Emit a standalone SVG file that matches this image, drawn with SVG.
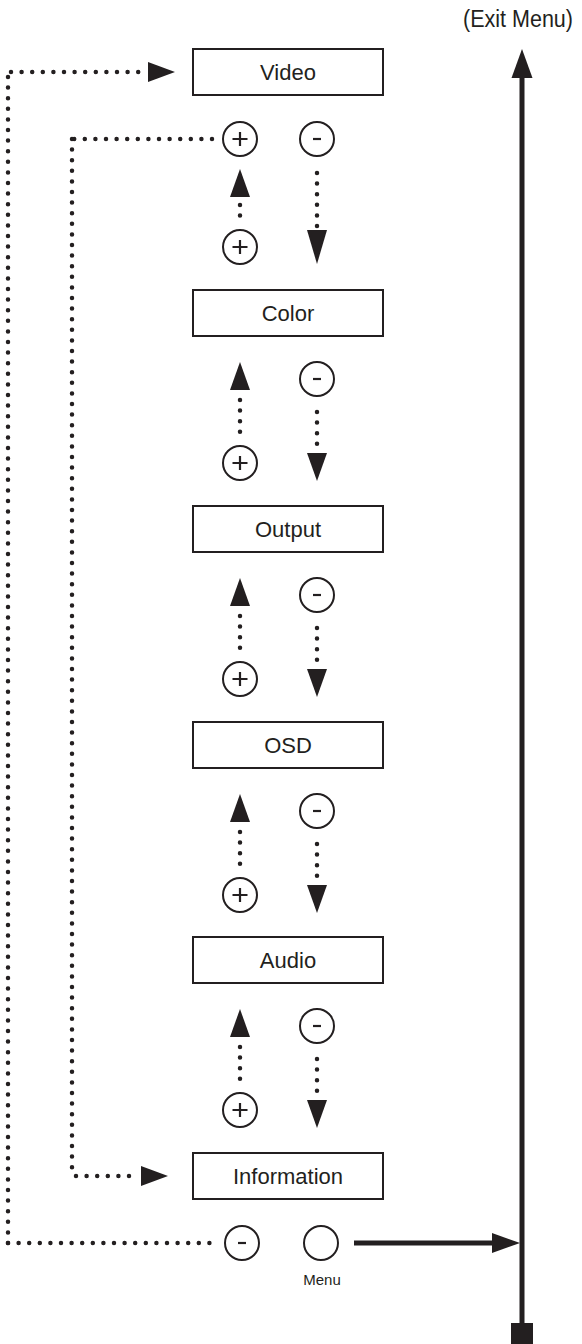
<svg xmlns="http://www.w3.org/2000/svg" width="582" height="1344" viewBox="0 0 582 1344">
<style>
.box{fill:#fff;stroke:#231f20;stroke-width:2}
.lbl{font-family:"Liberation Sans",Arial,sans-serif;font-size:22px;fill:#231f20;text-anchor:middle}
.btn{fill:#fff;stroke:#231f20;stroke-width:2}
.sign{stroke:#231f20;stroke-width:2.2;fill:none}
.dot{fill:none;stroke:#231f20;stroke-width:4.5;stroke-linecap:round;stroke-dasharray:0 10.6}
.ah{fill:#231f20}
.thick{stroke:#231f20;stroke-width:5;fill:none}
</style>
<defs>
<g id="plus"><circle class="btn" r="17"/><path class="sign" d="M-7.5,0H7.5M0,-7V7"/></g>
<g id="minus"><circle class="btn" r="17"/><path class="sign" d="M-4,0H4" stroke-width="2.6"/></g>
</defs>
<rect width="582" height="1344" fill="#fff"/>

<g id="connectors">
<!-- outer loop: bottom minus to Video -->
<path class="dot" d="M8,1243H214"/>
<path class="dot" d="M8,1243V72"/>
<path class="dot" d="M11,72H140"/>
<polygon class="ah" points="148,62 175,72 148,82"/>
<!-- inner loop: top plus to Information -->
<path class="dot" d="M212,139H72"/>
<path class="dot" d="M72,139V1176"/>
<path class="dot" d="M76,1176H134"/>
<polygon class="ah" points="141,1166 168,1176 141,1186"/>
<!-- top section -->
<polygon class="ah" points="240,169 230,197 250,197"/>
<path class="dot" d="M240,205V216"/>
<path class="dot" d="M317,173V227"/>
<polygon class="ah" points="307,230 327,230 317,264"/>
<!-- Color section -->
<polygon class="ah" points="240,362 230,390 250,390"/>
<path class="dot" d="M240,400V433"/>
<path class="dot" d="M317,412V446"/>
<polygon class="ah" points="307,453 327,453 317,481"/>
<!-- Output section -->
<polygon class="ah" points="240,578 230,606 250,606"/>
<path class="dot" d="M240,616V649"/>
<path class="dot" d="M317,628V662"/>
<polygon class="ah" points="307,669 327,669 317,697"/>
<!-- OSD section -->
<polygon class="ah" points="240,794 230,822 250,822"/>
<path class="dot" d="M240,832V865"/>
<path class="dot" d="M317,844V878"/>
<polygon class="ah" points="307,885 327,885 317,913"/>
<!-- Audio section -->
<polygon class="ah" points="240,1009 230,1037 250,1037"/>
<path class="dot" d="M240,1047V1080"/>
<path class="dot" d="M317,1059V1093"/>
<polygon class="ah" points="307,1100 327,1100 317,1128"/>
<!-- Menu to exit -->
<path class="thick" d="M354,1243H495"/>
<polygon class="ah" points="492,1233 520,1243 492,1253"/>
<path class="thick" d="M522,72V1325"/>
<polygon class="ah" points="522,49 511.5,78 532.5,78"/>
<rect class="ah" x="511" y="1323" width="22" height="21"/>
</g>

<g id="exit-label"><text x="518" y="27" font-family="Liberation Sans, Arial, sans-serif" font-size="23" fill="#231f20" text-anchor="middle" textLength="110" lengthAdjust="spacingAndGlyphs">(Exit Menu)</text></g>

<g id="video"><rect class="box" x="193" y="49" width="190" height="46"/><text class="lbl" x="288" y="80">Video</text></g>
<g id="color"><rect class="box" x="193" y="290" width="190" height="46"/><text class="lbl" x="288" y="321">Color</text></g>
<g id="output"><rect class="box" x="193" y="506" width="190" height="46"/><text class="lbl" x="288" y="537">Output</text></g>
<g id="osd"><rect class="box" x="193" y="722" width="190" height="46"/><text class="lbl" x="288" y="753">OSD</text></g>
<g id="audio"><rect class="box" x="193" y="937" width="190" height="46"/><text class="lbl" x="288" y="968">Audio</text></g>
<g id="information"><rect class="box" x="193" y="1153" width="190" height="46"/><text class="lbl" x="288" y="1184">Information</text></g>

<g id="btn-plus-top"><use href="#plus" x="240" y="139"/></g>
<g id="btn-minus-top"><use href="#minus" x="317" y="139"/></g>
<g id="btn-plus-1"><use href="#plus" x="240" y="247"/></g>
<g id="btn-minus-2"><use href="#minus" x="317" y="379"/></g>
<g id="btn-plus-2"><use href="#plus" x="240" y="463"/></g>
<g id="btn-minus-3"><use href="#minus" x="317" y="595"/></g>
<g id="btn-plus-3"><use href="#plus" x="240" y="679"/></g>
<g id="btn-minus-4"><use href="#minus" x="317" y="811"/></g>
<g id="btn-plus-4"><use href="#plus" x="240" y="895"/></g>
<g id="btn-minus-5"><use href="#minus" x="317" y="1026"/></g>
<g id="btn-plus-5"><use href="#plus" x="240" y="1110"/></g>
<g id="btn-minus-bottom"><use href="#minus" x="242" y="1243"/></g>
<g id="btn-menu"><circle class="btn" cx="321" cy="1243" r="17"/><text x="322" y="1285" font-family="Liberation Sans, Arial, sans-serif" font-size="15" fill="#231f20" text-anchor="middle">Menu</text></g>
</svg>
